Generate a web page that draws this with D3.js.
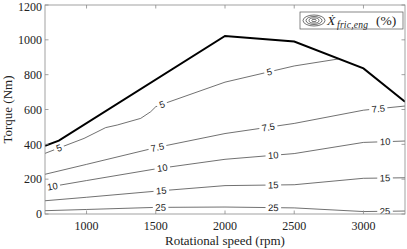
<!DOCTYPE html>
<html><head><meta charset="utf-8">
<script src="https://cdn.jsdelivr.net/npm/d3@7"></script>
<style>body{margin:0;background:#fff}svg{display:block}</style>
</head><body>
<svg id="c" width="407" height="249"></svg>
<script>
// ---- data ----
const xTicks = [1000, 1500, 2000, 2500, 3000];
const yTicks = [0, 200, 400, 600, 800, 1000, 1200];
const maxTorque = [[700,392],[800,421],[2000,1022],[2500,990],[3000,836],[3300,645]];
const levels = ["5", "7.5", "10", "15", "25"];
const c5   = [[700,348],[837,390],[982,434],[1138,496],[1222,511],[1391,549],[1463,587],[1500,616],[1579,639],[2000,757],[2500,850],[2818,890]];
const c7_5 = [[700,228],[1000,285],[1500,381],[2000,462],[2500,520],[3000,596],[3300,620]];
const c10  = [[700,151],[1000,192],[1500,259],[2000,314],[2500,347],[3000,411],[3300,419]];
const c15  = [[700,76],[1000,96],[1500,131],[2000,163],[2500,168],[3000,205],[3300,208]];
const c25  = [[700,19],[1000,26],[1500,38],[2000,40],[2500,35],[3000,14],[3300,17]];
const lab5   = [801, 1545, 2320];
const lab7_5 = [1512, 2313, 3107];
const lab10  = [753, 1547, 2349, 3156];
const lab15  = [1540, 2349, 3156];
const lab25  = [1535, 2349, 3156];
const contours = [c5, c7_5, c10, c15, c25];
const labels = [lab5, lab7_5, lab10, lab15, lab25];

// ---- chart ----
const svg = d3.select("#c");
const L = 45, R = 405, T = 5, B = 214;
const x = d3.scaleLinear().domain([700, 3300]).range([L, R]);
const y = d3.scaleLinear().domain([0, 1200]).range([B, T]);
const serif = "'Liberation Serif', 'Times New Roman', serif";
const sans = "'Liberation Sans', Arial, sans-serif";
const axisCol = "#8a8a8a";

svg.append("clipPath").attr("id","clip").append("rect")
  .attr("x", L).attr("y", T).attr("width", R-L).attr("height", B-T);

const line = d3.line().x(d => x(d[0])).y(d => y(d[1]));
const g = svg.append("g").attr("clip-path","url(#clip)");

contours.forEach(c => {
  g.append("path").attr("d", line(c)).attr("fill","none")
    .attr("stroke","#333").attr("stroke-width",0.7);
});

function pointAt(c, r) {
  for (let i = 0; i < c.length-1; i++) {
    if (r >= c[i][0] && r <= c[i+1][0]) {
      const t = (r - c[i][0])/(c[i+1][0]-c[i][0]);
      const tq = c[i][1] + t*(c[i+1][1]-c[i][1]);
      const ang = Math.atan2(y(c[i+1][1])-y(c[i][1]), x(c[i+1][0])-x(c[i][0]))*180/Math.PI;
      return [x(r), y(tq), ang];
    }
  }
  return null;
}
contours.forEach((c, k) => {
  labels[k].forEach(r => {
    const p = pointAt(c, r);
    if (!p) return;
    const lg = g.append("g").attr("transform", `translate(${p[0]},${p[1]}) rotate(${p[2]})`);
    const txt = lg.append("text").attr("text-anchor","middle").attr("dy","0.35em")
      .attr("font-family", sans).attr("font-size", 9.5).attr("fill","#222").text(levels[k]);
    const w = txt.node().getComputedTextLength();
    lg.insert("rect","text").attr("x", -w/2-2.5).attr("y", -3).attr("width", w+5).attr("height", 6)
      .attr("fill","#fff");
  });
});

g.append("path").attr("d", line(maxTorque)).attr("fill","none")
  .attr("stroke","#000").attr("stroke-width",2);

// axes box & ticks
svg.append("rect").attr("x", L).attr("y", T).attr("width", R-L).attr("height", B-T)
  .attr("fill","none").attr("stroke", axisCol).attr("stroke-width", 0.8);
const tk = 3.5;
xTicks.forEach(v => {
  svg.append("line").attr("x1", x(v)).attr("x2", x(v)).attr("y1", B).attr("y2", B-tk).attr("stroke", axisCol).attr("stroke-width",0.8);
  svg.append("line").attr("x1", x(v)).attr("x2", x(v)).attr("y1", T).attr("y2", T+tk).attr("stroke", axisCol).attr("stroke-width",0.8);
  svg.append("text").attr("x", x(v)).attr("y", 230).attr("text-anchor","middle")
    .attr("font-family", serif).attr("font-size", 12).attr("fill","#222").text(v);
});
yTicks.forEach(v => {
  svg.append("line").attr("x1", L).attr("x2", L+tk).attr("y1", y(v)).attr("y2", y(v)).attr("stroke", axisCol).attr("stroke-width",0.8);
  svg.append("line").attr("x1", R).attr("x2", R-tk).attr("y1", y(v)).attr("y2", y(v)).attr("stroke", axisCol).attr("stroke-width",0.8);
  svg.append("text").attr("x", 42).attr("y", Math.max(y(v), 6.5)).attr("dy","0.35em").attr("text-anchor","end")
    .attr("font-family", serif).attr("font-size", 12).attr("fill","#222").text(v);
});

svg.append("text").attr("x", (L+R)/2).attr("y", 245).attr("text-anchor","middle")
  .attr("font-family", serif).attr("font-size", 13).attr("fill","#222").text("Rotational speed (rpm)");
svg.append("text").attr("transform", `translate(12,${(T+B)/2}) rotate(-90)`).attr("text-anchor","middle")
  .attr("font-family", serif).attr("font-size", 13).attr("fill","#222").text("Torque (Nm)");

// legend
const lgx = 300, lgy = 12;
svg.append("rect").attr("x", lgx).attr("y", lgy).attr("width", 103).attr("height", 17)
  .attr("fill","#fff").attr("stroke","#555").attr("stroke-width",0.7);
[[11,5.5],[8,4],[5,2.6],[2.2,1.2]].forEach(r => {
  svg.append("ellipse").attr("cx", lgx+14).attr("cy", lgy+8.5).attr("rx", r[0]).attr("ry", r[1])
    .attr("fill","none").attr("stroke","#333").attr("stroke-width",0.7);
});
const lt = svg.append("text").attr("y", lgy+13)
  .attr("font-family", serif).attr("font-size", 13.5).attr("fill","#222");
lt.append("tspan").attr("x", lgx+27).attr("font-style","italic").text("\u1E8A");
lt.append("tspan").attr("x", lgx+37).attr("font-style","italic").attr("font-size", 9.5).attr("dy", 2.5)
  .attr("textLength", 31).attr("lengthAdjust","spacing").text("fric,eng");
lt.append("tspan").attr("x", lgx+76).attr("dy", -2.5).text("(%)");
</script>
</body></html>
